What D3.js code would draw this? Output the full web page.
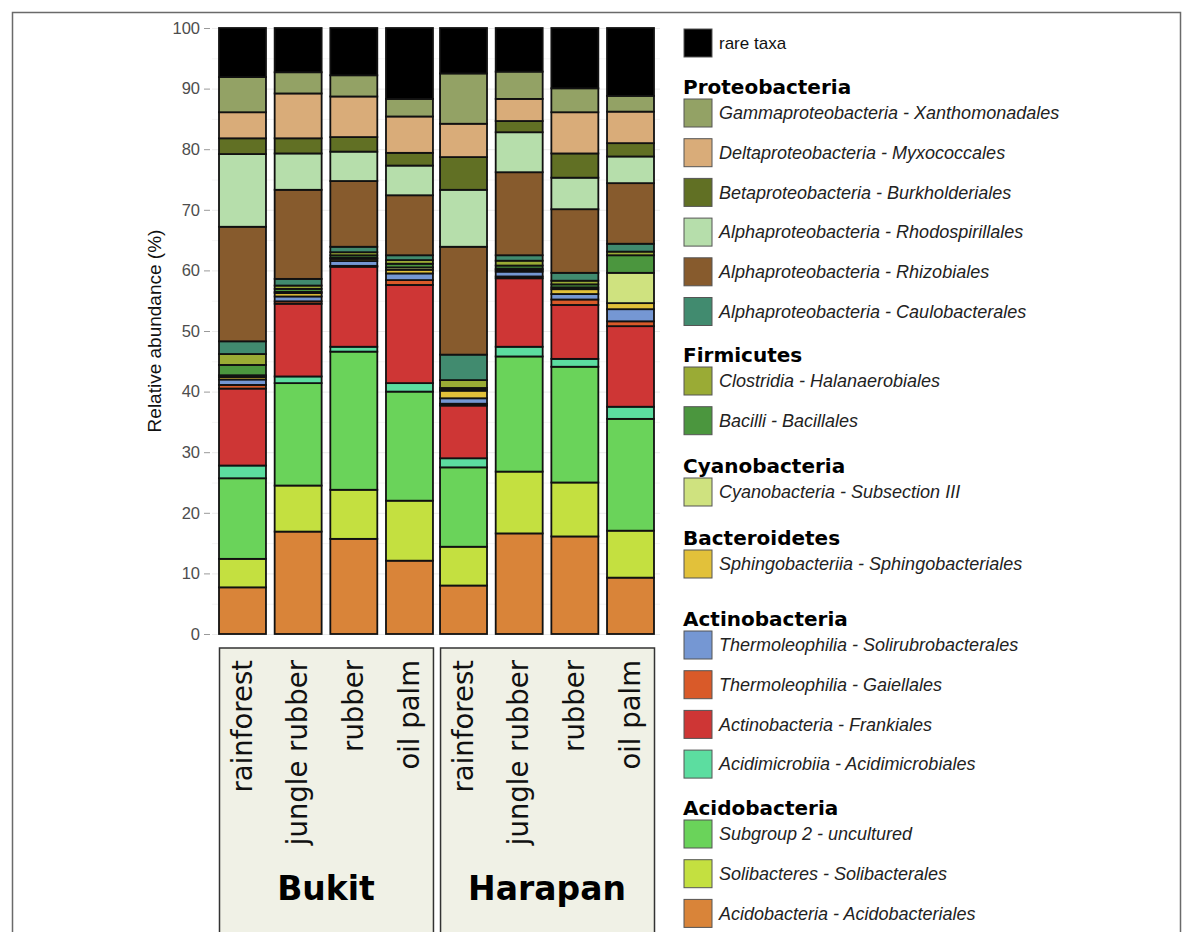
<!DOCTYPE html>
<html>
<head>
<meta charset="utf-8">
<script src="https://cdn.jsdelivr.net/npm/d3@7"></script>
<style>
  html, body { margin: 0; padding: 0; background: #fff; }
  svg { display: block; }
</style>
</head>
<body>
<svg id="chart" width="1193" height="932"></svg>
<script>
// ---------------- DATA ----------------
const sites = ["Bukit", "Harapan"];
const landUses = ["rainforest", "jungle rubber", "rubber", "oil palm"];
// sample order: Bukit (rf, jr, r, op), Harapan (rf, jr, r, op)

// taxa from bottom of stack to top
const taxa = [
  "Acidobacteria - Acidobacteriales",
  "Solibacteres - Solibacterales",
  "Subgroup 2 - uncultured",
  "Acidimicrobiia - Acidimicrobiales",
  "Actinobacteria - Frankiales",
  "Thermoleophilia - Gaiellales",
  "Thermoleophilia - Solirubrobacterales",
  "Sphingobacteriia - Sphingobacteriales",
  "Cyanobacteria - Subsection III",
  "Bacilli - Bacillales",
  "Clostridia - Halanaerobiales",
  "Alphaproteobacteria - Caulobacterales",
  "Alphaproteobacteria - Rhizobiales",
  "Alphaproteobacteria - Rhodospirillales",
  "Betaproteobacteria - Burkholderiales",
  "Deltaproteobacteria - Myxococcales",
  "Gammaproteobacteria - Xanthomonadales",
  "rare taxa"
];

const acidobacteriales    = [7.7, 16.9, 15.7, 12.1, 8.0, 16.6, 16.1, 9.3];
const solibacterales      = [4.7, 7.6, 8.1, 9.9, 6.4, 10.2, 8.9, 7.75];
const subgroup2           = [13.3, 16.9, 22.8, 18.0, 13.1, 19.0, 19.1, 18.45];
const acidimicrobiales    = [2.1, 1.1, 0.8, 1.4, 1.5, 1.6, 1.3, 2.0];
const frankiales          = [12.7, 12.0, 13.2, 16.2, 8.7, 11.3, 8.9, 13.3];
const gaiellales          = [0.6, 0.4, 0.15, 0.8, 0.3, 0.3, 0.9, 0.8];
const solirubrobacterales = [0.9, 0.8, 0.8, 1.1, 0.9, 0.8, 0.9, 2.0];
const sphingobacteriales  = [0.4, 0.55, 0.35, 0.6, 1.25, 0.3, 0.8, 1.0];
const cyanobacteriaIII    = [0.3, 0.2, 0.2, 0.4, 0.15, 0.2, 0.3, 5.0];
const bacillales          = [1.7, 0.5, 0.4, 0.6, 0.3, 0.5, 0.5, 2.9];
const halanaerobiales     = [1.8, 0.55, 0.5, 0.6, 1.3, 0.8, 0.6, 0.6];
const caulobacterales     = [2.1, 1.1, 0.9, 0.8, 4.2, 0.9, 1.3, 1.3];
const rhizobiales         = [18.9, 14.7, 10.85, 9.9, 17.8, 13.7, 10.5, 10.0];
const rhodospirillales    = [12.0, 6.0, 4.85, 4.9, 9.4, 6.6, 5.2, 4.4];
const burkholderiales     = [2.6, 2.5, 2.4, 2.1, 5.4, 1.85, 4.0, 2.2];
const myxococcales        = [4.3, 7.4, 6.7, 6.0, 5.5, 3.65, 6.8, 5.2];
const xanthomonadales     = [5.8, 3.5, 3.5, 2.9, 8.3, 4.5, 3.95, 2.6];
const rareTaxa            = [8.1, 7.3, 7.8, 11.7, 7.5, 7.2, 9.95, 11.2];

const seriesValues = [
  acidobacteriales, solibacterales, subgroup2, acidimicrobiales, frankiales,
  gaiellales, solirubrobacterales, sphingobacteriales, cyanobacteriaIII,
  bacillales, halanaerobiales, caulobacterales, rhizobiales, rhodospirillales,
  burkholderiales, myxococcales, xanthomonadales, rareTaxa
];

const taxaColors = [
  "#d98439", "#c4e040", "#6ad35a", "#5cdda0", "#ce3635",
  "#d95a29", "#7597d3", "#e2c13a", "#cfe27f",
  "#4b963e", "#9aab35", "#418b6f", "#875b2d", "#b6deab",
  "#617024", "#d9ac79", "#93a265", "#000000"
];

const yTicks = [0, 10, 20, 30, 40, 50, 60, 70, 80, 90, 100];

// legend groups (phylum header, taxa listed top to bottom)
const legendGroups = [
  { header: "Proteobacteria", items: [
    "Gammaproteobacteria - Xanthomonadales", "Deltaproteobacteria - Myxococcales",
    "Betaproteobacteria - Burkholderiales", "Alphaproteobacteria - Rhodospirillales",
    "Alphaproteobacteria - Rhizobiales", "Alphaproteobacteria - Caulobacterales"] },
  { header: "Firmicutes", items: ["Clostridia - Halanaerobiales", "Bacilli - Bacillales"] },
  { header: "Cyanobacteria", items: ["Cyanobacteria - Subsection III"] },
  { header: "Bacteroidetes", items: ["Sphingobacteriia - Sphingobacteriales"] },
  { header: "Actinobacteria", items: [
    "Thermoleophilia - Solirubrobacterales", "Thermoleophilia - Gaiellales",
    "Actinobacteria - Frankiales", "Acidimicrobiia - Acidimicrobiales"] },
  { header: "Acidobacteria", items: [
    "Subgroup 2 - uncultured", "Solibacteres - Solibacterales",
    "Acidobacteria - Acidobacteriales"] }
];

// ---------------- BUILD TABLE ----------------
const samples = [];
sites.forEach(s => landUses.forEach(l => samples.push({ site: s, landUse: l })));
const table = samples.map((smp, i) => {
  const row = { site: smp.site, landUse: smp.landUse };
  taxa.forEach((t, k) => { row[t] = seriesValues[k][i]; });
  return row;
});
const stacked = d3.stack().keys(taxa)(table);
const color = d3.scaleOrdinal().domain(taxa).range(taxaColors);

// ---------------- LAYOUT ----------------
const svg = d3.select("#chart");
const plotTop = 28, plotBottom = 634;
const facetLeft = 219, facetRight = 654;

const y = d3.scaleLinear().domain([0, 100]).range([plotBottom, plotTop]);
const xSite = d3.scaleBand().domain(sites).range([facetLeft, facetRight]).paddingInner(0.032);
const xLand = d3.scaleBand().domain(landUses).range([0, xSite.bandwidth()]).paddingInner(0.156).paddingOuter(0);

// outer frame
svg.append("rect")
  .attr("x", 12.5).attr("y", 12.5).attr("width", 1168).attr("height", 940)
  .attr("fill", "none").attr("stroke", "#6a6a6a").attr("stroke-width", 1.5);

// grid lines
const gridVals = d3.range(0, 101, 5);
svg.append("g").selectAll("line").data(gridVals).join("line")
  .attr("x1", 212).attr("x2", 660)
  .attr("y1", d => y(d) + 0.5).attr("y2", d => y(d) + 0.5)
  .attr("stroke", d => d % 10 === 0 ? "#ebebeb" : "#f4f4f4")
  .attr("stroke-width", 1);

// y axis
const yAxis = d3.axisLeft(y).tickValues(yTicks).tickSize(6).tickPadding(4);
const gy = svg.append("g").attr("transform", "translate(210,0)").call(yAxis);
gy.select(".domain").remove();
gy.selectAll(".tick line").attr("stroke", "#999").attr("stroke-width", 1);
gy.selectAll(".tick text")
  .attr("fill", "#4d4d4d")
  .style("font-family", "'Liberation Sans', Arial, sans-serif")
  .style("font-size", "16.5px");

svg.append("text")
  .attr("transform", `translate(161,${(plotTop + plotBottom) / 2}) rotate(-90)`)
  .attr("text-anchor", "middle")
  .style("font-family", "'Liberation Sans', Arial, sans-serif")
  .style("font-size", "19px")
  .attr("fill", "#111")
  .text("Relative abundance (%)");

// bars
const barX = d => xSite(d.data.site) + xLand(d.data.landUse);
svg.append("g").selectAll("g").data(stacked).join("g")
  .attr("fill", d => color(d.key))
  .selectAll("rect").data(d => d).join("rect")
  .attr("x", barX)
  .attr("width", xLand.bandwidth())
  .attr("y", d => y(d[1]))
  .attr("height", d => y(d[0]) - y(d[1]))
  .attr("stroke", "#111")
  .attr("stroke-width", 1.8);

// facet strips at bottom with land-use labels
const stripTop = 648;
const strips = svg.append("g").selectAll("g").data(sites).join("g");
strips.append("rect")
  .attr("x", d => xSite(d) + 0.5).attr("y", stripTop)
  .attr("width", xSite.bandwidth()).attr("height", 300)
  .attr("fill", "#f0f1e6").attr("stroke", "#333").attr("stroke-width", 1.5);
strips.append("text")
  .attr("x", d => xSite(d) + xSite.bandwidth() / 2)
  .attr("y", 900)
  .attr("text-anchor", "middle")
  .style("font-family", "'DejaVu Sans', sans-serif")
  .style("font-weight", "bold")
  .style("font-size", "33px")
  .attr("fill", "#000")
  .text(d => d);
strips.each(function(site) {
  d3.select(this).selectAll("text.lu").data(landUses).join("text")
    .attr("class", "lu")
    .attr("transform", l => `translate(${xSite(site) + xLand(l) + xLand.bandwidth() / 2},660) rotate(-90)`)
    .attr("text-anchor", "end")
    .attr("dy", "0.33em")
    .style("font-family", "'DejaVu Sans', sans-serif")
    .style("font-size", "27.5px")
    .attr("fill", "#111")
    .text(l => l);
});

// ---------------- LEGEND ----------------
const legX = 684, sw = 28, textX = 719;
const lg = svg.append("g");
const itemFont = "'Liberation Sans', Arial, sans-serif";

function swatch(cy, key) {
  lg.append("rect")
    .attr("x", legX).attr("y", cy - sw / 2)
    .attr("width", sw).attr("height", sw)
    .attr("fill", color(key))
    .attr("stroke", "#555").attr("stroke-width", 1);
}

// rare taxa
swatch(43, "rare taxa");
lg.append("text").attr("x", textX).attr("y", 43).attr("dy", "0.35em")
  .style("font-family", itemFont).style("font-size", "17px").attr("fill", "#111")
  .text("rare taxa");

const headerBaselines = [94, 362, 473, 545, 626, 815];
const itemStep = 39.7;
legendGroups.forEach((g, gi) => {
  const hb = headerBaselines[gi];
  lg.append("text").attr("x", 683).attr("y", hb)
    .style("font-family", "'DejaVu Sans', sans-serif")
    .style("font-weight", "bold").style("font-size", "20px").attr("fill", "#000")
    .text(g.header);
  g.items.forEach((it, ii) => {
    const cy = hb + 19 + ii * itemStep;
    swatch(cy, it);
    lg.append("text").attr("x", textX).attr("y", cy).attr("dy", "0.35em")
      .style("font-family", itemFont).style("font-style", "italic")
      .style("font-size", "18px").attr("fill", "#222")
      .text(it);
  });
});
</script>
</body>
</html>
